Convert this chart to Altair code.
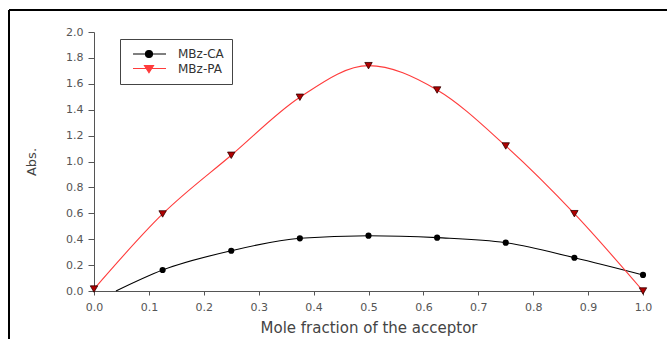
import altair as alt
import pandas as pd

# ---- data ----
x_vals = [0.0, 0.125, 0.25, 0.375, 0.5, 0.625, 0.75, 0.875, 1.0]
ca_x = [0.125, 0.25, 0.375, 0.5, 0.625, 0.75, 0.875, 1.0]
ca_y = [0.162, 0.311, 0.407, 0.427, 0.412, 0.373, 0.257, 0.124]
ca_line_start = (0.04, 0.0)   # fitted CA curve starts here
pa_y = [0.015, 0.595, 1.048, 1.496, 1.74, 1.552, 1.12, 0.597, 0.0]
series = ["MBz-CA", "MBz-PA"]
x_ticks = [0.0, 0.1, 0.2, 0.3, 0.4, 0.5, 0.6, 0.7, 0.8, 0.9, 1.0]
y_ticks = [0.0, 0.2, 0.4, 0.6, 0.8, 1.0, 1.2, 1.4, 1.6, 1.8, 2.0]

line_colors = ["#000000", "#ff3b3b"]
marker_colors = ["#000000", "#b00000"]
FONT = "DejaVu Sans"

pts = pd.DataFrame(
    {"x": ca_x + x_vals,
     "y": ca_y + pa_y,
     "s": [series[0]] * len(ca_x) + [series[1]] * len(x_vals)}
)
lines = pd.DataFrame(
    {"x": [ca_line_start[0]] + ca_x + x_vals,
     "y": [ca_line_start[1]] + ca_y + pa_y,
     "s": [series[0]] * (len(ca_x) + 1) + [series[1]] * len(x_vals)}
)

W, H = 549, 259

xs = alt.Scale(domain=[0, 1], nice=False, zero=False)
ys = alt.Scale(domain=[0, 2], nice=False)
xax = alt.Axis(values=x_ticks, tickCount=len(x_ticks), format=".1f",
               title="Mole fraction of the acceptor",
               grid=False, tickSize=4, labelPadding=6, titleX=W / 2, titleY=36,
               titleBaseline="middle", labelFlush=False, labelOverlap=False,
               titleFontSize=15)
yax = alt.Axis(values=y_ticks, tickCount=len(y_ticks), format=".1f", title="Abs.",
               grid=False, tickSize=6, labelPadding=5, titleX=-63, titleY=H / 2,
               titleAngle=-90, titleAlign="center", titleBaseline="middle",
               labelFlush=False, labelOverlap=False, titleFontSize=13)

circ_path = "M-0.33,0H5.17M2.91,0A0.58,0.58 0 1 1 1.75,0A0.58,0.58 0 1 1 2.91,0Z"
tri_path = "M-0.33,0H5.17M1.58,-0.5L3.08,-0.5L2.33,0.7Z"

leg = alt.Legend(
    title=None, orient="none", legendX=26, legendY=7,
    symbolSize=144, symbolOpacity=1, symbolStrokeWidth=1.2,
    labelOffset=36, padding=8, rowPadding=1.5,
    strokeColor="#444444", labelFont=FONT, labelFontSize=12,
    labelColor="#333333")

color_scale = alt.Scale(domain=series, range=line_colors)

line_layer = alt.Chart(lines).mark_line(interpolate="monotone", strokeWidth=1.1).encode(
    x=alt.X("x:Q", scale=xs, axis=xax),
    y=alt.Y("y:Q", scale=ys, axis=yax),
    color=alt.Color("s:N", scale=color_scale, legend=leg),
    detail="s:N",
)

ca_pts = alt.Chart(pts).transform_filter(alt.datum.s == series[0]).mark_point(
    shape="circle", filled=True, size=38, color=marker_colors[0], opacity=1
).encode(x="x:Q", y="y:Q")

pa_pts = alt.Chart(pts).transform_filter(alt.datum.s == series[1]).mark_point(
    shape="triangle-down", filled=True, size=55, fill=marker_colors[1],
    stroke="#300000", strokeWidth=0.8, opacity=1
).encode(x="x:Q", y="y:Q")

legend_layer = alt.Chart(pts).mark_point(filled=True, opacity=0).encode(
    x="x:Q", y="y:Q",
    shape=alt.Shape("s:N", scale=alt.Scale(domain=series, range=[circ_path, tri_path]),
                    legend=leg),
    color=alt.Color("s:N", scale=color_scale, legend=leg),
    stroke=alt.Stroke("s:N", scale=alt.Scale(domain=series, range=line_colors), legend=leg),
)

frame_top = alt.Chart(pd.DataFrame({"a": [0]})).mark_rule(color="#000000", strokeWidth=2).encode(
    x=alt.value(-85), x2=alt.value(667 - 94), y=alt.value(-22))
frame_left = alt.Chart(pd.DataFrame({"a": [0]})).mark_rule(color="#000000", strokeWidth=2).encode(
    x=alt.value(-85), y=alt.value(-22), y2=alt.value(339 - 32))

chart = alt.layer(line_layer, ca_pts, pa_pts, legend_layer, frame_top, frame_left).properties(
    width=W, height=H,
    autosize=alt.AutoSizeParams(type="none"),
    padding={"left": 94, "top": 32, "right": 24, "bottom": 48},
    background="white",
).configure_view(stroke=None).configure_axis(
    domainColor="#555555", tickColor="#555555", labelColor="#555555",
    labelFont=FONT, labelFontSize=11, titleFont=FONT,
    titleFontWeight="normal", titleColor="#444444",
)

chart.save("out.html", embed_options={"renderer": "svg", "actions": False})
